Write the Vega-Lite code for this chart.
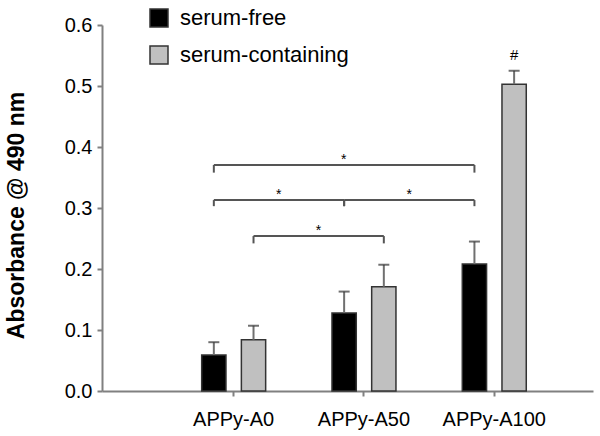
{
  "$schema": "https://vega.github.io/schema/vega-lite/v6.json",
  "width": 491,
  "height": 366,
  "autosize": {"type": "none"},
  "padding": {"left": 102, "top": 25, "right": 7, "bottom": 45},
  "background": "white",
  "config": {
    "view": {"stroke": null},
    "font": "Liberation Sans"
  },
  "datasets": {
    "bars": [
      {"group": "APPy-A0", "series": "serum-free", "value": 0.059, "upper": 0.080, "sig": ""},
      {"group": "APPy-A0", "series": "serum-containing", "value": 0.084, "upper": 0.107, "sig": ""},
      {"group": "APPy-A50", "series": "serum-free", "value": 0.128, "upper": 0.163, "sig": ""},
      {"group": "APPy-A50", "series": "serum-containing", "value": 0.171, "upper": 0.207, "sig": ""},
      {"group": "APPy-A100", "series": "serum-free", "value": 0.208, "upper": 0.245, "sig": ""},
      {"group": "APPy-A100", "series": "serum-containing", "value": 0.503, "upper": 0.525, "sig": "#"}
    ],
    "brackets": [
      {"id": "b1", "from": "APPy-A0", "to": "APPy-A100", "series": "serum-free", "level": 0.3705, "legEnd": 0.358, "span": 2, "label": "*"},
      {"id": "b2", "from": "APPy-A0", "to": "APPy-A50", "series": "serum-free", "level": 0.313, "legEnd": 0.303, "span": 1, "label": "*"},
      {"id": "b3", "from": "APPy-A50", "to": "APPy-A100", "series": "serum-free", "level": 0.313, "legEnd": 0.303, "span": 1, "label": "*"},
      {"id": "b4", "from": "APPy-A0", "to": "APPy-A50", "series": "serum-containing", "level": 0.254, "legEnd": 0.242, "span": 1, "label": "*"}
    ]
  },
  "layer": [
    {
      "data": {"name": "bars"},
      "mark": {"type": "bar", "stroke": "#333333", "strokeWidth": 1.5},
      "encoding": {
        "x": {
          "field": "group", "type": "nominal",
          "scale": {"domain": ["APPy-A0", "APPy-A50", "APPy-A100"], "paddingInner": 0.509, "paddingOuter": 0.6386, "align": 0.599},
          "axis": {
            "title": null, "labelAngle": 0, "labelFontSize": 20, "labelColor": "#000000",
            "labelPadding": 13, "tickSize": 5, "tickColor": "#808080", "tickWidth": 2,
            "domainColor": "#808080", "domainWidth": 2
          }
        },
        "xOffset": {
          "field": "series", "type": "nominal",
          "scale": {"domain": ["serum-free", "serum-containing"], "paddingInner": 0.388, "paddingOuter": 0}
        },
        "y": {
          "field": "value", "type": "quantitative",
          "scale": {"domain": [0, 0.6], "nice": false},
          "axis": {
            "title": "Absorbance @ 490 nm", "titleFontSize": 23, "titleFontWeight": "bold", "titleColor": "#000000",
            "titlePadding": 36, "titleY": 190,
            "values": [0, 0.1, 0.2, 0.3, 0.4, 0.5, 0.6], "format": ".1f",
            "labelFontSize": 20, "labelColor": "#000000", "labelPadding": 5,
            "grid": false, "tickSize": 5, "tickColor": "#808080", "tickWidth": 2,
            "domainColor": "#808080", "domainWidth": 2
          }
        },
        "fill": {
          "field": "series", "type": "nominal",
          "scale": {"domain": ["serum-free", "serum-containing"], "range": ["#000000", "#c0c0c0"]},
          "legend": {
            "title": null, "orient": "none", "legendX": 46, "legendY": -18, "padding": 0,
            "symbolType": "square", "symbolSize": 324, "symbolStrokeColor": "#333333", "symbolStrokeWidth": 1.5,
            "labelFontSize": 22, "labelColor": "#000000", "labelOffset": 10, "rowPadding": 13, "labelLimit": 400
          }
        }
      }
    },
    {
      "data": {"name": "bars"},
      "mark": {"type": "rule", "color": "#707070", "strokeWidth": 2},
      "encoding": {
        "x": {"field": "group", "type": "nominal"},
        "xOffset": {"field": "series", "type": "nominal"},
        "y": {"field": "value", "type": "quantitative"},
        "y2": {"field": "upper"}
      }
    },
    {
      "data": {"name": "bars"},
      "mark": {"type": "tick", "color": "#333333", "size": 11, "thickness": 2, "orient": "horizontal"},
      "encoding": {
        "x": {"field": "group", "type": "nominal"},
        "xOffset": {"field": "series", "type": "nominal"},
        "y": {"field": "upper", "type": "quantitative"}
      }
    },
    {
      "data": {"name": "bars"},
      "mark": {"type": "text", "fontSize": 15, "baseline": "alphabetic", "dy": -11, "color": "#000000"},
      "encoding": {
        "x": {"field": "group", "type": "nominal"},
        "xOffset": {"field": "series", "type": "nominal"},
        "y": {"field": "upper", "type": "quantitative"},
        "text": {"field": "sig"}
      }
    },
    {
      "data": {"name": "brackets"},
      "transform": [{"fold": ["from", "to"], "as": ["end", "pos"]}],
      "mark": {"type": "line", "color": "#555555", "strokeWidth": 2},
      "encoding": {
        "x": {"field": "pos", "type": "nominal"},
        "xOffset": {"field": "series", "type": "nominal"},
        "y": {"field": "level", "type": "quantitative"},
        "detail": {"field": "id"}
      }
    },
    {
      "data": {"name": "brackets"},
      "mark": {"type": "rule", "color": "#555555", "strokeWidth": 2},
      "encoding": {
        "x": {"field": "from", "type": "nominal"},
        "xOffset": {"field": "series", "type": "nominal"},
        "y": {"field": "level", "type": "quantitative"},
        "y2": {"field": "legEnd"}
      }
    },
    {
      "data": {"name": "brackets"},
      "mark": {"type": "rule", "color": "#555555", "strokeWidth": 2},
      "encoding": {
        "x": {"field": "to", "type": "nominal"},
        "xOffset": {"field": "series", "type": "nominal"},
        "y": {"field": "level", "type": "quantitative"},
        "y2": {"field": "legEnd"}
      }
    },
    {
      "data": {"name": "brackets"},
      "transform": [{"filter": "datum.span == 1"}],
      "mark": {"type": "text", "fontSize": 14, "baseline": "alphabetic", "dy": -1, "dx": 65, "color": "#000000"},
      "encoding": {
        "x": {"field": "from", "type": "nominal"},
        "xOffset": {"field": "series", "type": "nominal"},
        "y": {"field": "level", "type": "quantitative"},
        "text": {"field": "label"}
      }
    },
    {
      "data": {"name": "brackets"},
      "transform": [{"filter": "datum.span == 2"}],
      "mark": {"type": "text", "fontSize": 14, "baseline": "alphabetic", "dy": -1, "dx": 130, "color": "#000000"},
      "encoding": {
        "x": {"field": "from", "type": "nominal"},
        "xOffset": {"field": "series", "type": "nominal"},
        "y": {"field": "level", "type": "quantitative"},
        "text": {"field": "label"}
      }
    }
  ]
}
